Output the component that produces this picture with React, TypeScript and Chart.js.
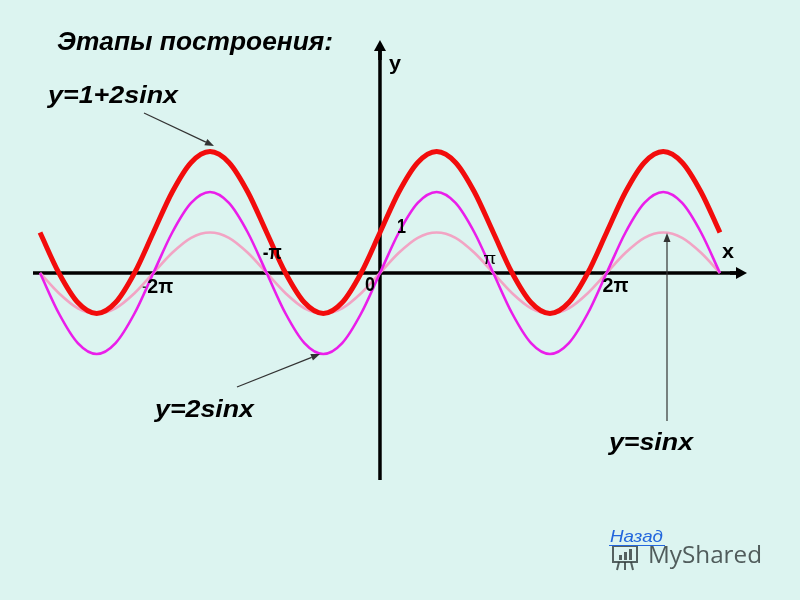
import React, { useEffect, useRef } from "react";
import { Chart, registerables } from "chart.js";

Chart.register(...registerables);

// x positions in units of π/6 (from -3π to 3π)
const xSteps = [
  -18, -17, -16, -15, -14, -13, -12, -11, -10, -9, -8, -7, -6, -5, -4, -3, -2, -1,
  0, 1, 2, 3, 4, 5, 6, 7, 8, 9, 10, 11, 12, 13, 14, 15, 16, 17, 18,
];

// y = sin x
const sinValues = [
  0, -0.5, -0.87, -1, -0.87, -0.5, 0, 0.5, 0.87, 1, 0.87, 0.5,
  0, -0.5, -0.87, -1, -0.87, -0.5, 0, 0.5, 0.87, 1, 0.87, 0.5,
  0, -0.5, -0.87, -1, -0.87, -0.5, 0, 0.5, 0.87, 1, 0.87, 0.5, 0,
];

// y = 2 sin x
const twoSinValues = [
  0, -1, -1.73, -2, -1.73, -1, 0, 1, 1.73, 2, 1.73, 1,
  0, -1, -1.73, -2, -1.73, -1, 0, 1, 1.73, 2, 1.73, 1,
  0, -1, -1.73, -2, -1.73, -1, 0, 1, 1.73, 2, 1.73, 1, 0,
];

// y = 1 + 2 sin x
const onePlusTwoSinValues = [
  1, 0, -0.73, -1, -0.73, 0, 1, 2, 2.73, 3, 2.73, 2,
  1, 0, -0.73, -1, -0.73, 0, 1, 2, 2.73, 3, 2.73, 2,
  1, 0, -0.73, -1, -0.73, 0, 1, 2, 2.73, 3, 2.73, 2, 1,
];

// x tick values (units of π/6) and their labels
const xTickSteps = [-12, -6, 0, 6, 12];
const xTickLabels = ["-2π", "-π", "0", "π", "2π"];
const yTickValues = [1];
const yTickLabels = ["1"];

const BG = "#dcf4f0";
const X_MIN = -20.12;
const X_MAX = 22.24;
const Y_MIN = -8.074;
const Y_MAX = 6.741;

// layout for the tick labels: offset from the tick pixel, font size, width
const xTickLayout = [
  { dx: -11, dy: 20, size: 21, w: 31, weight: "bold" },
  { dx: -4, dy: -14, size: 20, w: 19, weight: "bold" },
  { dx: -15, dy: 18, size: 20, w: 10, weight: "bold" },
  { dx: -10, dy: -9, size: 16, w: 13, weight: "normal" },
  { dx: -4, dy: 19, size: 21, w: 26, weight: "bold" },
];

function fitText(
  ctx: CanvasRenderingContext2D,
  text: string,
  x: number,
  baseline: number,
  font: string,
  width: number,
  color: string
) {
  ctx.save();
  ctx.font = font;
  ctx.fillStyle = color;
  ctx.textAlign = "left";
  ctx.textBaseline = "alphabetic";
  const m = ctx.measureText(text).width || 1;
  ctx.translate(x, baseline);
  ctx.scale(width / m, 1);
  ctx.fillText(text, 0, 0);
  ctx.restore();
}

function arrow(
  ctx: CanvasRenderingContext2D,
  x1: number,
  y1: number,
  x2: number,
  y2: number,
  color: string,
  lw: number,
  headLen: number,
  headHalf: number
) {
  const a = Math.atan2(y2 - y1, x2 - x1);
  const bx = x2 - headLen * Math.cos(a);
  const by = y2 - headLen * Math.sin(a);
  ctx.save();
  ctx.strokeStyle = color;
  ctx.fillStyle = color;
  ctx.lineWidth = lw;
  ctx.beginPath();
  ctx.moveTo(x1, y1);
  ctx.lineTo(bx, by);
  ctx.stroke();
  ctx.beginPath();
  ctx.moveTo(x2, y2);
  ctx.lineTo(bx + headHalf * Math.sin(a), by - headHalf * Math.cos(a));
  ctx.lineTo(bx - headHalf * Math.sin(a), by + headHalf * Math.cos(a));
  ctx.closePath();
  ctx.fill();
  ctx.restore();
}

const decorPlugin = {
  id: "decor",
  beforeDraw(chart: any) {
    const ctx = chart.ctx as CanvasRenderingContext2D;
    ctx.save();
    ctx.fillStyle = BG;
    ctx.fillRect(0, 0, chart.width, chart.height);
    ctx.restore();
  },
  beforeDatasetsDraw(chart: any) {
    const ctx = chart.ctx as CanvasRenderingContext2D;
    const xs = chart.scales.x;
    const ys = chart.scales.y;
    const x0 = xs.getPixelForValue(0);
    const y0 = ys.getPixelForValue(0);
    ctx.save();
    ctx.strokeStyle = "#000";
    ctx.lineWidth = 3.5;
    // x axis
    ctx.beginPath();
    ctx.moveTo(33, y0);
    ctx.lineTo(738, y0);
    ctx.stroke();
    arrow(ctx, 730, y0, 747, y0, "#000", 3.5, 11, 6);
    // y axis
    ctx.beginPath();
    ctx.moveTo(x0, 480);
    ctx.lineTo(x0, 50);
    ctx.stroke();
    arrow(ctx, x0, 60, x0, 40, "#000", 3.5, 11, 6);
    ctx.restore();
  },
  afterDraw(chart: any) {
    const ctx = chart.ctx as CanvasRenderingContext2D;
    const xs = chart.scales.x;
    const ys = chart.scales.y;
    const x0 = xs.getPixelForValue(0);
    const y0 = ys.getPixelForValue(0);
    const F = "'Liberation Sans', Arial, sans-serif";

    // tick labels
    xTickSteps.forEach((v, i) => {
      const L = xTickLayout[i];
      const px = xs.getPixelForValue(v);
      const label = xTickLabels[i];
      if (label === "-2π") {
        fitText(ctx, "-", px + L.dx, y0 + L.dy - 2, `bold 12px ${F}`, 4, "#333");
        fitText(ctx, "2π", px + L.dx + 5, y0 + L.dy, `${L.weight} ${L.size}px ${F}`, L.w - 5, "#000");
      } else {
        fitText(ctx, label, px + L.dx, y0 + L.dy, `${L.weight} ${L.size}px ${F}`, L.w, "#000");
      }
    });
    yTickValues.forEach((v, i) => {
      const py = ys.getPixelForValue(v);
      fitText(ctx, yTickLabels[i], x0 + 17, py, `bold 20px ${F}`, 9, "#000");
    });
    // axis names
    fitText(ctx, "x", 722, 258, `bold 21px ${F}`, 12, "#000");
    fitText(ctx, "y", 389, 70, `bold 21px ${F}`, 12, "#000");

    // title
    fitText(ctx, "Этапы построения:", 57, 50, `italic bold 25px ${F}`, 276, "#000");

    // curve labels
    fitText(ctx, "y=1+2sinx", 48, 103, `italic bold 23px ${F}`, 130, "#000");
    fitText(ctx, "y=2sinx", 155, 417, `italic bold 23px ${F}`, 99, "#000");
    fitText(ctx, "y=sinx", 609, 450, `italic bold 23px ${F}`, 84, "#000");

    // pointer arrows
    arrow(ctx, 144, 113, 214, 146, "#333", 1.2, 9, 3.5);
    arrow(ctx, 237, 387, 320, 354, "#333", 1.2, 9, 3.5);
    arrow(ctx, 667, 421, 667, 233, "#333", 1.2, 9, 3.5);

    // watermark icon (easel)
    ctx.save();
    ctx.strokeStyle = "rgba(50,60,60,0.8)";
    ctx.fillStyle = "rgba(50,60,60,0.8)";
    ctx.lineWidth = 2;
    ctx.strokeRect(613, 546, 24, 16);
    ctx.fillRect(619, 555, 3, 5);
    ctx.fillRect(624, 552, 3, 8);
    ctx.fillRect(629, 549, 3, 11);
    ctx.beginPath();
    ctx.moveTo(619, 562);
    ctx.lineTo(617, 570);
    ctx.moveTo(625, 562);
    ctx.lineTo(625, 570);
    ctx.moveTo(631, 562);
    ctx.lineTo(633, 570);
    ctx.stroke();
    ctx.restore();
    fitText(ctx, "MyShared", 648, 563, `24px 'Open Sans', sans-serif`, 114, "rgba(55,65,65,0.85)");

    // "Назад" link
    fitText(ctx, "Назад", 610, 542, `italic 17px ${F}`, 53, "#2266dd");
    ctx.save();
    ctx.strokeStyle = "#2266dd";
    ctx.lineWidth = 1;
    ctx.beginPath();
    ctx.moveTo(609, 545.5);
    ctx.lineTo(665, 545.5);
    ctx.stroke();
    ctx.restore();
  },
};

export default function App() {
  const ref = useRef<HTMLCanvasElement>(null);
  useEffect(() => {
    document.body.style.margin = "0";
    document.body.style.background = BG;
    const toPts = (ys: number[]) => xSteps.map((x, i) => ({ x, y: ys[i] }));
    const chart = new Chart(ref.current as HTMLCanvasElement, {
      type: "line",
      data: {
        datasets: [
          {
            label: "y=1+2sinx",
            data: toPts(onePlusTwoSinValues),
            borderColor: "#f20c0c",
            borderWidth: 5,
            pointRadius: 0,
            cubicInterpolationMode: "monotone",
            fill: false,
          },
          {
            label: "y=2sinx",
            data: toPts(twoSinValues),
            borderColor: "#ea1eea",
            borderWidth: 2.6,
            pointRadius: 0,
            cubicInterpolationMode: "monotone",
            fill: false,
          },
          {
            label: "y=sinx",
            data: toPts(sinValues),
            borderColor: "#f2a4c4",
            borderWidth: 2.6,
            pointRadius: 0,
            cubicInterpolationMode: "monotone",
            fill: false,
          },
        ],
      },
      options: {
        responsive: false,
        animation: false,
        events: [],
        layout: { padding: 0 },
        plugins: { legend: { display: false }, tooltip: { enabled: false }, title: { display: false } },
        scales: {
          x: { type: "linear", min: X_MIN, max: X_MAX, display: false },
          y: { type: "linear", min: Y_MIN, max: Y_MAX, display: false },
        },
      } as any,
      plugins: [decorPlugin],
    });
    return () => chart.destroy();
  }, []);
  return <canvas ref={ref} width={800} height={600} style={{ display: "block" }} />;
}
